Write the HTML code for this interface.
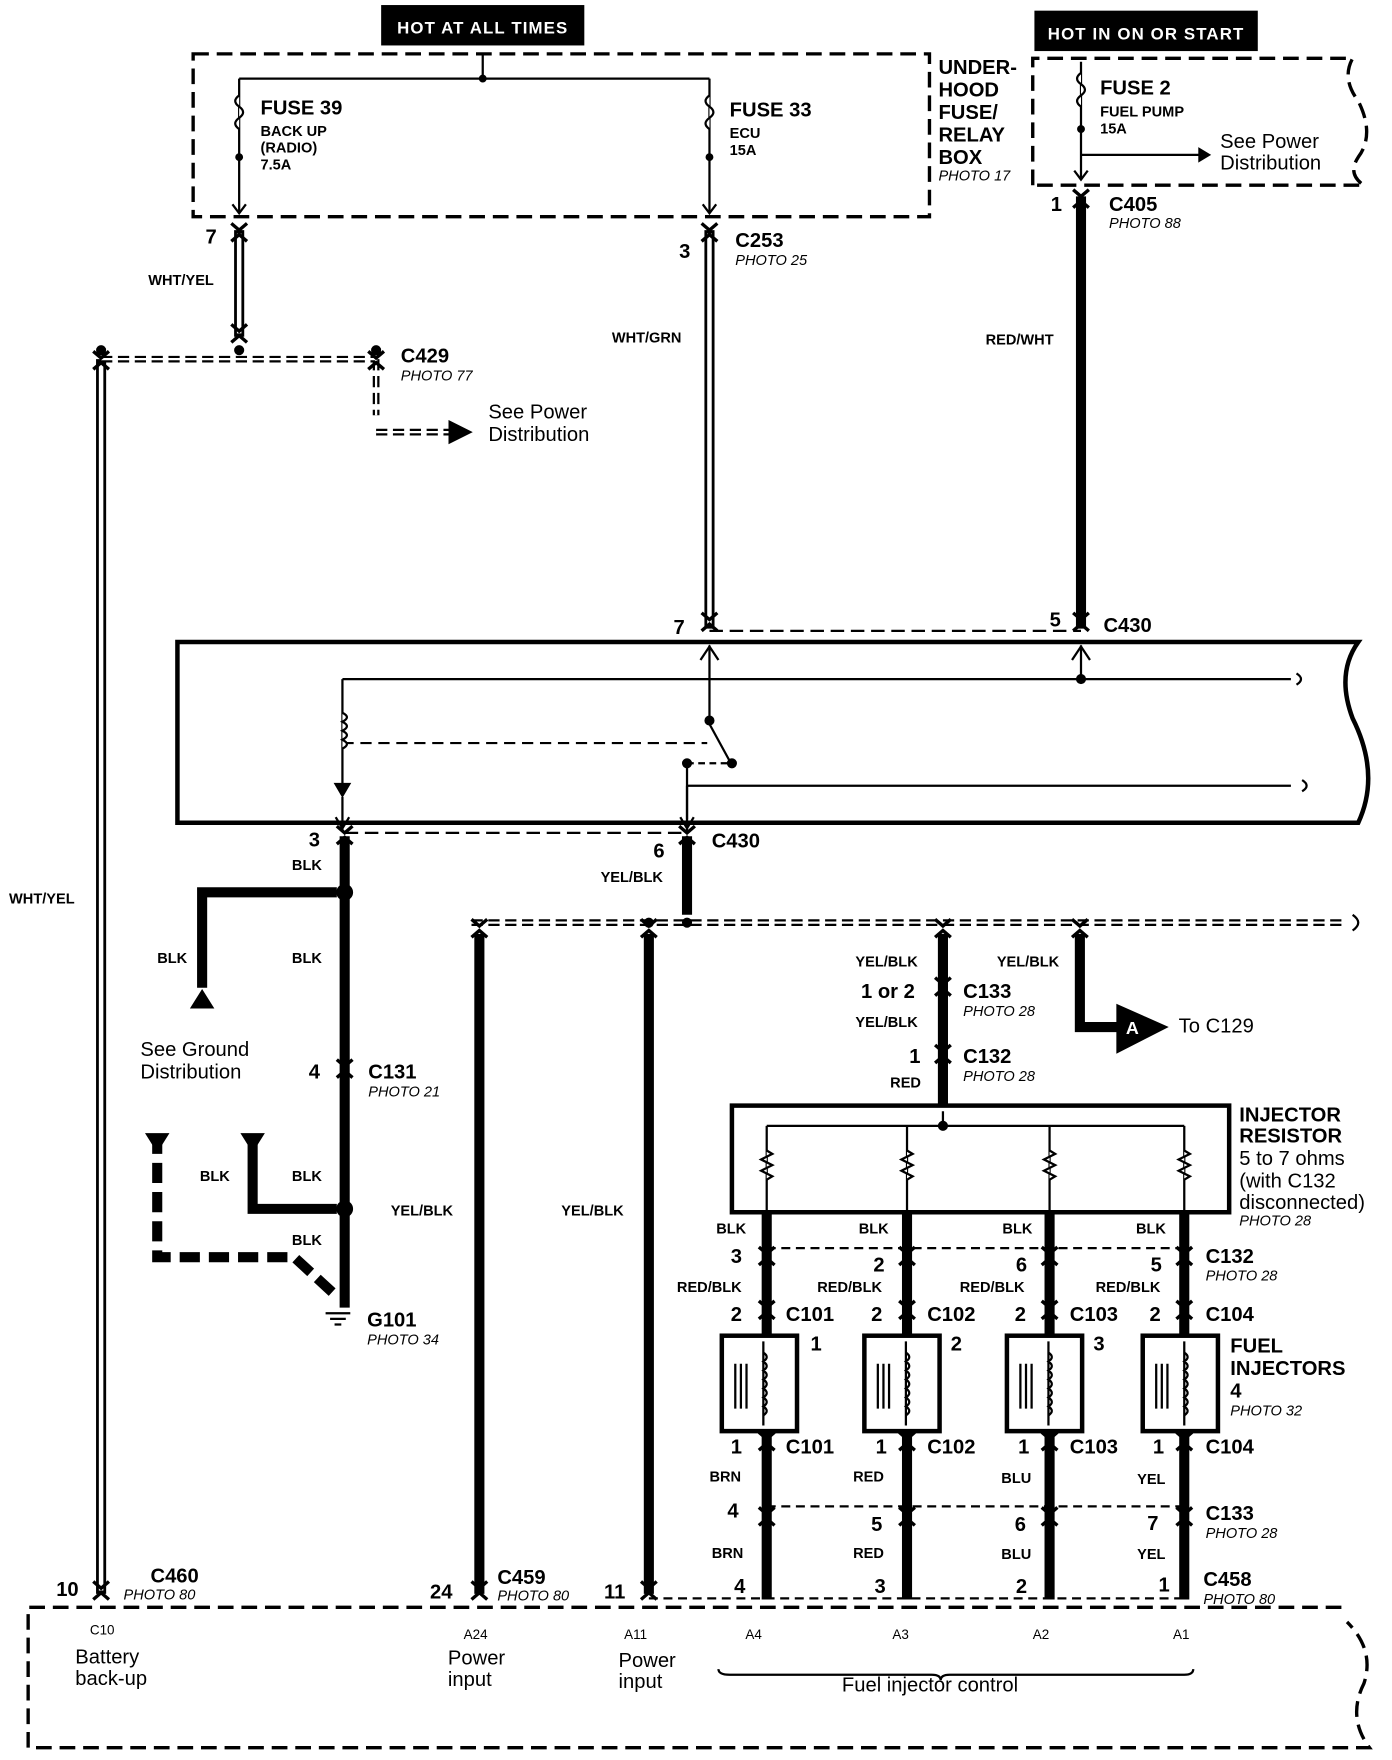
<!DOCTYPE html>
<html><head><meta charset="utf-8"><style>
html,body{margin:0;padding:0;background:#fff}
svg{display:block}
text{font-family:"Liberation Sans",sans-serif;fill:#000}
.b{font-weight:bold}
.s{font-size:13px;font-weight:bold}
.m{font-size:18px;font-weight:bold}
.p{font-size:13px;font-style:italic}
.n{font-size:18px}
</style></head><body>
<svg width="1392" height="1760" viewBox="0 0 1240 1568" xmlns="http://www.w3.org/2000/svg">
<defs>
<g id="conn"><path d="M-7,-9 L0,-3 L7,-9" fill="none" stroke="#000" stroke-width="3"/><path d="M-7,7 L0,1 L7,7" fill="none" stroke="#000" stroke-width="3"/></g>
</defs>
<g fill="none" stroke="#000">
<rect x="340" y="5" width="180" height="35" fill="#000"/>
<rect x="922" y="10" width="198" height="35" fill="#000"/>
<rect x="172" y="48" width="656" height="145" stroke-width="3" stroke-dasharray="14,7"/>
<path d="M920,165 L920,52 L1205,52 Q1195,70 1210,90 Q1225,120 1210,140 Q1200,155 1215,165 L920,165" stroke-width="3" stroke-dasharray="14,7"/>
<path d="M430,48 V70 M213,70 H632 M213,70 V190 M632,70 V190 M963,55 V160" stroke-width="2"/>
<circle cx="430" cy="70" r="3" fill="#000"/>
<path d="M213,85 q-7,5 0,10 q7,5 0,10 q-7,5 0,10 M632,85 q-7,5 0,10 q7,5 0,10 q-7,5 0,10 M963,65 q-7,5 0,10 q7,5 0,10 q-7,5 0,10" stroke-width="2" fill="#fff"/>
<circle cx="213" cy="140" r="3" fill="#000"/><circle cx="632" cy="140" r="3" fill="#000"/><circle cx="963" cy="115" r="3" fill="#000"/>
<path d="M963,138 H1070" stroke-width="2"/><path d="M1068,132 L1078,138 L1068,144Z" fill="#000"/>
<path d="M207,182 L213,190 L219,182 M626,182 L632,190 L638,182 M957,152 L963,160 L969,152" stroke-width="2"/>
<g stroke-width="9"><path d="M213,205 V300 M632,205 V560 M90,320 V1420"/></g>
<g stroke="#fff" stroke-width="4"><path d="M213,208 V297 M632,208 V557 M90,323 V1417"/></g>
<path d="M90,320 H335 M335,320 V370 M335,385 H400" stroke-width="6" stroke-dasharray="10,5"/>
<path d="M90,320 H335 M335,320 V370 M335,385 H400" stroke="#fff" stroke-width="2"/>
<path d="M400,375 L420,385 L400,395Z" fill="#000"/>
<circle cx="90" cy="312" r="4" fill="#000"/><circle cx="213" cy="312" r="4" fill="#000"/><circle cx="335" cy="312" r="4" fill="#000"/>
<g stroke-width="9"><path d="M963,175 V560 M307,745 V1165 M612,745 V815 M427,832 V1420 M578,832 V1420 M840,832 V985 M962,832 V915 H995 M683,1080 V1190 M808,1080 V1190 M935,1080 V1190 M1055,1080 V1190 M683,1275 V1425 M808,1275 V1425 M935,1275 V1425 M1055,1275 V1425 M300,795 H180 V880 M300,1077 H225 V1018"/></g>
<path d="M140,1010 V1120 H262 L300,1155" stroke-width="9" stroke-dasharray="18,8"/>
<path d="M180,882 l-10,16 h20z M225,1026 l-10,-16 h20z M140,1026 l-10,-16 h20z" fill="#000"/>
<path d="M995,895 L1040,915 L995,938Z" fill="#000"/>
<circle cx="307" cy="795" r="7" fill="#000"/><circle cx="307" cy="1077" r="7" fill="#000"/>
<path d="M290,1170 H312 M294,1175 H308 M298,1180 H304" stroke-width="2"/>
<path d="M420,822 H1200" stroke-width="6" stroke-dasharray="10,5"/><path d="M420,822 H1200" stroke="#fff" stroke-width="2"/>
<circle cx="578" cy="822" r="4" fill="#000"/><circle cx="612" cy="822" r="4" fill="#000"/>
<path d="M1205,815 q10,7 0,14" stroke-width="2"/>
<path d="M632,562 H963" stroke-width="2" stroke-dasharray="12,6"/>
<path d="M307,742 H612" stroke-width="2" stroke-dasharray="12,6"/>
<path d="M158,572 H1210 Q1190,600 1205,640 Q1230,690 1210,733 H158 Z" stroke-width="4"/>
<path d="M305,605 H1150 M632,575 V640 M963,575 V605 M612,700 H1150 M305,605 V700 M612,680 V730" stroke-width="2"/>
<path d="M305,662 H630" stroke-width="2" stroke-dasharray="10,6"/>
<path d="M612,680 H650" stroke-width="2" stroke-dasharray="6,4"/>
<circle cx="963" cy="605" r="4" fill="#000"/><circle cx="632" cy="642" r="4" fill="#000"/><circle cx="612" cy="680" r="4" fill="#000"/><circle cx="652" cy="680" r="4" fill="#000"/>
<path d="M632,645 L650,678" stroke-width="2"/>
<path d="M305,635 q8,4 0,8 q8,4 0,8 q8,4 0,8 q8,4 0,8" stroke-width="2" fill="#fff"/>
<path d="M298,698 L312,698 L305,710Z" fill="#000"/><path d="M305,710 V740 M612,700 V740" stroke-width="2"/>
<path d="M624,588 L632,576 L640,588 M955,588 L963,576 L971,588 M299,728 L305,738 L311,728 M606,728 L612,738 L618,728" stroke-width="2"/>
<path d="M1155,600 q8,5 0,10 M1160,695 q8,5 0,10" stroke-width="2"/>
<rect x="652" y="985" width="443" height="95" stroke-width="4"/>
<path d="M683,1003 H1055 M683,1003 V1078 M808,1003 V1078 M935,1003 V1078 M1055,1003 V1078 M840,990 V1003" stroke-width="2"/>
<circle cx="840" cy="1003" r="4" fill="#000"/>
<g stroke-width="2" fill="#fff">
<path d="M683,1025 l5,3 l-10,5 l10,5 l-10,5 l10,5 l-5,3"/>
<path d="M808,1025 l5,3 l-10,5 l10,5 l-10,5 l10,5 l-5,3"/>
<path d="M935,1025 l5,3 l-10,5 l10,5 l-10,5 l10,5 l-5,3"/>
<path d="M1055,1025 l5,3 l-10,5 l10,5 l-10,5 l10,5 l-5,3"/>
</g>
<path d="M683,1112 H1055 M683,1342 H1055 M578,1424 H1055" stroke-width="2" stroke-dasharray="8,5"/>
<g stroke-width="4"><rect x="643" y="1190" width="67" height="85"/><rect x="770" y="1190" width="67" height="85"/><rect x="897" y="1190" width="67" height="85"/><rect x="1018" y="1190" width="67" height="85"/></g>
<g stroke-width="2">
<path d="M655,1215 V1255 M660,1215 V1255 M665,1215 V1255 M680,1195 V1270"/>
<path d="M782,1215 V1255 M787,1215 V1255 M792,1215 V1255 M807,1195 V1270"/>
<path d="M909,1215 V1255 M914,1215 V1255 M919,1215 V1255 M934,1195 V1270"/>
<path d="M1030,1215 V1255 M1035,1215 V1255 M1040,1215 V1255 M1055,1195 V1270"/>
<path d="M680,1205 q6,4 0,8 q6,4 0,8 q6,4 0,8 q6,4 0,8 q6,4 0,8 q6,4 0,8 q6,4 0,8 M807,1205 q6,4 0,8 q6,4 0,8 q6,4 0,8 q6,4 0,8 q6,4 0,8 q6,4 0,8 q6,4 0,8 M934,1205 q6,4 0,8 q6,4 0,8 q6,4 0,8 q6,4 0,8 q6,4 0,8 q6,4 0,8 q6,4 0,8 M1055,1205 q6,4 0,8 q6,4 0,8 q6,4 0,8 q6,4 0,8 q6,4 0,8 q6,4 0,8 q6,4 0,8"/>
</g>
<path d="M1195,1432 H25 V1557 H1220 Q1200,1530 1215,1500 Q1225,1470 1200,1445" stroke-width="3" stroke-dasharray="14,7"/>
<path d="M640,1487 q0,5 10,5 H830 q8,0 8,5 q0,-5 8,-5 H1055 q8,0 8,-5" stroke-width="2"/>
</g>
<g>
<use href="#conn" x="213" y="208"/><use href="#conn" x="632" y="208"/><use href="#conn" x="963" y="178"/>
<use href="#conn" x="213" y="298"/><use href="#conn" x="90" y="322"/><use href="#conn" x="335" y="322"/>
<use href="#conn" x="632" y="555"/><use href="#conn" x="963" y="555"/>
<use href="#conn" x="307" y="745"/><use href="#conn" x="612" y="745"/>
<use href="#conn" x="427" y="828"/><use href="#conn" x="578" y="828"/><use href="#conn" x="840" y="828"/><use href="#conn" x="962" y="828"/>
<use href="#conn" x="840" y="880"/><use href="#conn" x="840" y="940"/><use href="#conn" x="307" y="953"/>
<use href="#conn" x="683" y="1120"/><use href="#conn" x="808" y="1120"/><use href="#conn" x="935" y="1120"/><use href="#conn" x="1055" y="1120"/>
<use href="#conn" x="683" y="1168"/><use href="#conn" x="808" y="1168"/><use href="#conn" x="935" y="1168"/><use href="#conn" x="1055" y="1168"/>
<use href="#conn" x="683" y="1285"/><use href="#conn" x="808" y="1285"/><use href="#conn" x="935" y="1285"/><use href="#conn" x="1055" y="1285"/>
<use href="#conn" x="683" y="1352"/><use href="#conn" x="808" y="1352"/><use href="#conn" x="935" y="1352"/><use href="#conn" x="1055" y="1352"/>
<use href="#conn" x="90" y="1418"/><use href="#conn" x="427" y="1418"/><use href="#conn" x="578" y="1418"/>
</g>
<text x="430" y="30" text-anchor="middle" font-size="15" style="fill:#fff" class="b" letter-spacing="1">HOT AT ALL TIMES</text>
<text x="1021" y="35" text-anchor="middle" font-size="15" style="fill:#fff" class="b" letter-spacing="1">HOT IN ON OR START</text>
<text class="m" x="232" y="102">FUSE 39</text><text class="s" x="232" y="121">BACK UP</text><text class="s" x="232" y="136">(RADIO)</text><text class="s" x="232" y="151">7.5A</text>
<text class="m" x="650" y="104">FUSE 33</text><text class="s" x="650" y="123">ECU</text><text class="s" x="650" y="138">15A</text>
<text class="m" x="836" y="66">UNDER-</text><text class="m" x="836" y="86">HOOD</text><text class="m" x="836" y="106">FUSE/</text><text class="m" x="836" y="126">RELAY</text><text class="m" x="836" y="146">BOX</text><text class="p" x="836" y="161">PHOTO 17</text>
<text class="m" x="980" y="84">FUSE 2</text><text class="s" x="980" y="104">FUEL PUMP</text><text class="s" x="980" y="119">15A</text>
<text class="n" x="1087" y="132">See Power</text><text class="n" x="1087" y="151">Distribution</text>
<text class="m" x="936" y="188">1</text><text class="m" x="988" y="188">C405</text><text class="p" x="988" y="203">PHOTO 88</text>
<text class="m" x="183" y="217">7</text><text class="m" x="605" y="230">3</text><text class="m" x="655" y="220">C253</text><text class="p" x="655" y="236">PHOTO 25</text>
<text class="s" x="132" y="254">WHT/YEL</text><text class="s" x="545" y="305">WHT/GRN</text><text class="s" x="878" y="307">RED/WHT</text>
<text class="m" x="357" y="323">C429</text><text class="p" x="357" y="339">PHOTO 77</text>
<text class="n" x="435" y="373">See Power</text><text class="n" x="435" y="393">Distribution</text>
<text class="m" x="600" y="565">7</text><text class="m" x="935" y="558">5</text><text class="m" x="983" y="563">C430</text>
<text class="m" x="275" y="754">3</text><text class="m" x="582" y="764">6</text><text class="m" x="634" y="755">C430</text>
<text class="s" x="260" y="775">BLK</text><text class="s" x="535" y="786">YEL/BLK</text>
<text class="s" x="8" y="805">WHT/YEL</text>
<text class="s" x="140" y="858">BLK</text><text class="s" x="260" y="858">BLK</text>
<text class="s" x="762" y="861">YEL/BLK</text><text class="s" x="888" y="861">YEL/BLK</text>
<text class="m" x="767" y="889">1 or 2</text><text class="m" x="858" y="889">C133</text><text class="p" x="858" y="905">PHOTO 28</text>
<text class="s" x="762" y="915">YEL/BLK</text>
<text x="1003" y="921" font-size="16" class="b" style="fill:#fff">A</text><text class="n" x="1050" y="920">To C129</text>
<text class="n" x="125" y="941">See Ground</text><text class="n" x="125" y="961">Distribution</text>
<text class="m" x="810" y="947">1</text><text class="m" x="858" y="947">C132</text><text class="p" x="858" y="963">PHOTO 28</text>
<text class="s" x="793" y="969">RED</text>
<text class="m" x="275" y="961">4</text><text class="m" x="328" y="961">C131</text><text class="p" x="328" y="977">PHOTO 21</text>
<text class="m" x="1104" y="999">INJECTOR</text><text class="m" x="1104" y="1018">RESISTOR</text>
<text class="n" x="1104" y="1038">5 to 7 ohms</text><text class="n" x="1104" y="1058">(with C132</text><text class="n" x="1104" y="1077">disconnected)</text><text class="p" x="1104" y="1092">PHOTO 28</text>
<text class="s" x="178" y="1052">BLK</text><text class="s" x="260" y="1052">BLK</text>
<text class="s" x="348" y="1083">YEL/BLK</text><text class="s" x="500" y="1083">YEL/BLK</text>
<text class="s" x="638" y="1099">BLK</text><text class="s" x="765" y="1099">BLK</text><text class="s" x="893" y="1099">BLK</text><text class="s" x="1012" y="1099">BLK</text>
<text class="s" x="260" y="1109">BLK</text>
<text class="m" x="651" y="1125">3</text><text class="m" x="778" y="1133">2</text><text class="m" x="905" y="1133">6</text><text class="m" x="1025" y="1133">5</text>
<text class="m" x="1074" y="1125">C132</text><text class="p" x="1074" y="1141">PHOTO 28</text>
<text class="s" x="603" y="1151">RED/BLK</text><text class="s" x="728" y="1151">RED/BLK</text><text class="s" x="855" y="1151">RED/BLK</text><text class="s" x="976" y="1151">RED/BLK</text>
<text class="m" x="651" y="1177">2</text><text class="m" x="700" y="1177">C101</text><text class="m" x="776" y="1177">2</text><text class="m" x="826" y="1177">C102</text>
<text class="m" x="904" y="1177">2</text><text class="m" x="953" y="1177">C103</text><text class="m" x="1024" y="1177">2</text><text class="m" x="1074" y="1177">C104</text>
<text class="m" x="327" y="1182">G101</text><text class="p" x="327" y="1198">PHOTO 34</text>
<text class="m" x="722" y="1203">1</text><text class="m" x="847" y="1203">2</text><text class="m" x="974" y="1203">3</text>
<text class="m" x="1096" y="1205">FUEL</text><text class="m" x="1096" y="1225">INJECTORS</text><text class="m" x="1096" y="1245">4</text><text class="p" x="1096" y="1261">PHOTO 32</text>
<text class="m" x="651" y="1295">1</text><text class="m" x="700" y="1295">C101</text><text class="m" x="780" y="1295">1</text><text class="m" x="826" y="1295">C102</text>
<text class="m" x="907" y="1295">1</text><text class="m" x="953" y="1295">C103</text><text class="m" x="1027" y="1295">1</text><text class="m" x="1074" y="1295">C104</text>
<text class="s" x="632" y="1320">BRN</text><text class="s" x="760" y="1320">RED</text><text class="s" x="892" y="1321">BLU</text><text class="s" x="1013" y="1322">YEL</text>
<text class="m" x="648" y="1352">4</text><text class="m" x="776" y="1364">5</text><text class="m" x="904" y="1364">6</text><text class="m" x="1022" y="1363">7</text>
<text class="m" x="1074" y="1354">C133</text><text class="p" x="1074" y="1370">PHOTO 28</text>
<text class="s" x="634" y="1388">BRN</text><text class="s" x="760" y="1388">RED</text><text class="s" x="892" y="1389">BLU</text><text class="s" x="1013" y="1389">YEL</text>
<text class="m" x="134" y="1410">C460</text><text class="p" x="110" y="1425">PHOTO 80</text>
<text class="m" x="443" y="1411">C459</text><text class="p" x="443" y="1426">PHOTO 80</text>
<text class="m" x="1072" y="1413">C458</text><text class="p" x="1072" y="1429">PHOTO 80</text>
<text class="m" x="50" y="1422">10</text><text class="m" x="383" y="1424">24</text><text class="m" x="538" y="1424">11</text>
<text class="m" x="654" y="1419">4</text><text class="m" x="779" y="1419">3</text><text class="m" x="905" y="1419">2</text><text class="m" x="1032" y="1418">1</text>
<text x="80" y="1456" font-size="12">C10</text><text x="413" y="1460" font-size="12">A24</text><text x="556" y="1460" font-size="12">A11</text>
<text x="664" y="1460" font-size="12">A4</text><text x="795" y="1460" font-size="12">A3</text><text x="920" y="1460" font-size="12">A2</text><text x="1045" y="1460" font-size="12">A1</text>
<text class="n" x="67" y="1482">Battery</text><text class="n" x="67" y="1501">back-up</text>
<text class="n" x="399" y="1483">Power</text><text class="n" x="399" y="1502">input</text>
<text class="n" x="551" y="1485">Power</text><text class="n" x="551" y="1504">input</text>
<text class="n" x="750" y="1507">Fuel injector control</text>
</svg>
</body></html>
